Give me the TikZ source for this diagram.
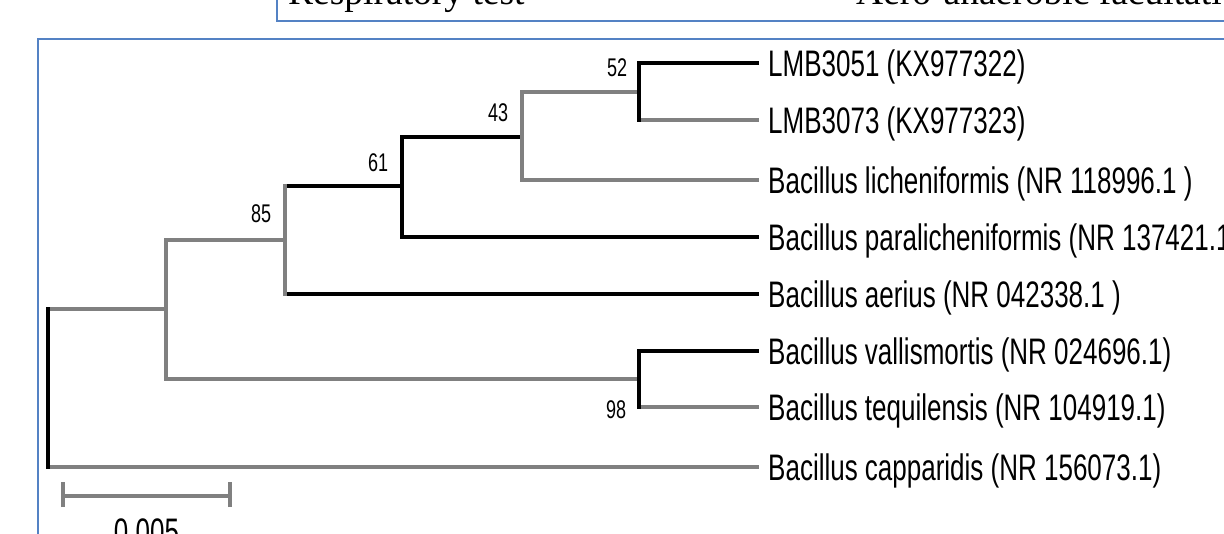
\documentclass[tikz,border=0pt]{standalone}
\usepackage{fontspec}
\newfontfamily\treefont{Liberation Sans}
\newfontfamily\tabfont{Liberation Serif}
\definecolor{branchgray}{RGB}{128,128,128}
\definecolor{frameblue}{RGB}{84,130,196}
% tall, narrow lettering of the tree labels
\newcommand{\tallbox}[1]{\scalebox{1}[1.42]{#1}}

\begin{document}
\begin{tikzpicture}[x=1pt, y=-1pt,
  branch/.style={line width=3.3pt, line cap=rect},
  lightbranch/.style={branch, draw=branchgray},
  darkbranch/.style={branch, draw=black},
  taxon/.style={anchor=base west, inner sep=0pt,
    font=\treefont\fontsize{26}{30}\selectfont},
  boot/.style={anchor=base west, inner sep=0pt,
    font=\treefont\fontsize{18}{20}\selectfont},
  cell/.style={anchor=base west, inner sep=0pt,
    font=\tabfont\fontsize{37.5}{40}\selectfont},
  rule/.style={draw=frameblue, line width=1.6pt},
  figframe/.style={draw=frameblue, line width=2.2pt},
  scalebar/.style={draw=branchgray, line width=3.3pt}]

\useasboundingbox (0,0) rectangle (1224,534);

% table row above the figure
\draw[rule] (277,-5) -- (277,21) -- (1230,21);
\node[cell] (resp) at (288,5) {Respiratory test};
\node[cell] (aero) at (856,5) {Aero-anaerobic facultative};

% figure frame
\draw[figframe] (38,540) -- (38,39) -- (1230,39);

% leaves
\coordinate (l1) at (757,63);
\coordinate (l2) at (757,120);
\coordinate (l3) at (757,180);
\coordinate (l4) at (757,237);
\coordinate (l5) at (757,294);
\coordinate (l6) at (757,351);
\coordinate (l7) at (757,407);
\coordinate (l8) at (757,467);

% internal nodes
\coordinate (n52)  at (639,92);
\coordinate (n43)  at (522,137);
\coordinate (n61)  at (402,186);
\coordinate (n85)  at (285,240);
\coordinate (n98)  at (639,379);
\coordinate (nA)   at (166,309);
\coordinate (root) at (48,388);

% horizontal branches
\draw[lightbranch] (root |- nA) -- (nA);
\draw[lightbranch] (root |- l8) -- (l8);
\draw[lightbranch] (nA |- n85) -- (n85);
\draw[lightbranch] (nA |- n98) -- (n98);
\draw[darkbranch]  (n85 |- n61) -- (n61);
\draw[darkbranch]  (n85 |- l5) -- (l5);
\draw[darkbranch]  (n61 |- n43) -- (n43);
\draw[darkbranch]  (n61 |- l4) -- (l4);
\draw[lightbranch] (n43 |- n52) -- (n52);
\draw[lightbranch] (n43 |- l3) -- (l3);
\draw[darkbranch]  (n52 |- l1) -- (l1);
\draw[lightbranch] (n52 |- l2) -- (l2);
\draw[darkbranch]  (n98 |- l6) -- (l6);
\draw[lightbranch] (n98 |- l7) -- (l7);

% vertical branches
\draw[darkbranch]  (root |- nA) -- (root |- l8);
\draw[lightbranch] (nA |- n85) -- (nA |- n98);
\draw[lightbranch] (n85 |- n61) -- (n85 |- l5);
\draw[darkbranch]  (n61 |- n43) -- (n61 |- l4);
\draw[lightbranch] (n43 |- n52) -- (n43 |- l3);
\draw[darkbranch]  (n52 |- l1) -- (n52 |- l2);
\draw[darkbranch]  (n98 |- l6) -- (n98 |- l7);

% taxon labels
\node[taxon] (t1) at ([shift={(11,14)}]l1) {\tallbox{LMB3051 (KX977322)}};
\node[taxon] (t2) at ([shift={(11,14)}]l2) {\tallbox{LMB3073 (KX977323)}};
\node[taxon] (t3) at ([shift={(11,14)}]l3) {\tallbox{Bacillus licheniformis (NR 118996.1 )}};
\node[taxon] (t4) at ([shift={(11,14)}]l4) {\tallbox{Bacillus paralicheniformis (NR 137421.1 )}};
\node[taxon] (t5) at ([shift={(11,14)}]l5) {\tallbox{Bacillus aerius (NR 042338.1 )}};
\node[taxon] (t6) at ([shift={(11,14)}]l6) {\tallbox{Bacillus vallismortis (NR 024696.1)}};
\node[taxon] (t7) at ([shift={(11,14)}]l7) {\tallbox{Bacillus tequilensis (NR 104919.1)}};
\node[taxon] (t8) at ([shift={(11,14)}]l8) {\tallbox{Bacillus capparidis (NR 156073.1)}};

% bootstrap values
\node[boot] (b52) at (607,77)  {\tallbox{52}};
\node[boot] (b43) at (488,122) {\tallbox{43}};
\node[boot] (b61) at (368,172) {\tallbox{61}};
\node[boot] (b85) at (251,223) {\tallbox{85}};
\node[boot] (b98) at (606,419) {\tallbox{98}};

% scale bar
\coordinate (sL) at (63,496);
\coordinate (sR) at (230,496);
\draw[scalebar] (sL) -- (sR);
\draw[scalebar] ([yshift=-11]sL) -- ([yshift=14]sL);
\draw[scalebar] ([yshift=-11]sR) -- ([yshift=14]sR);
\node[taxon, anchor=base] (sbar) at (146.5,544) {\tallbox{0.005}};
\end{tikzpicture}
\end{document}
